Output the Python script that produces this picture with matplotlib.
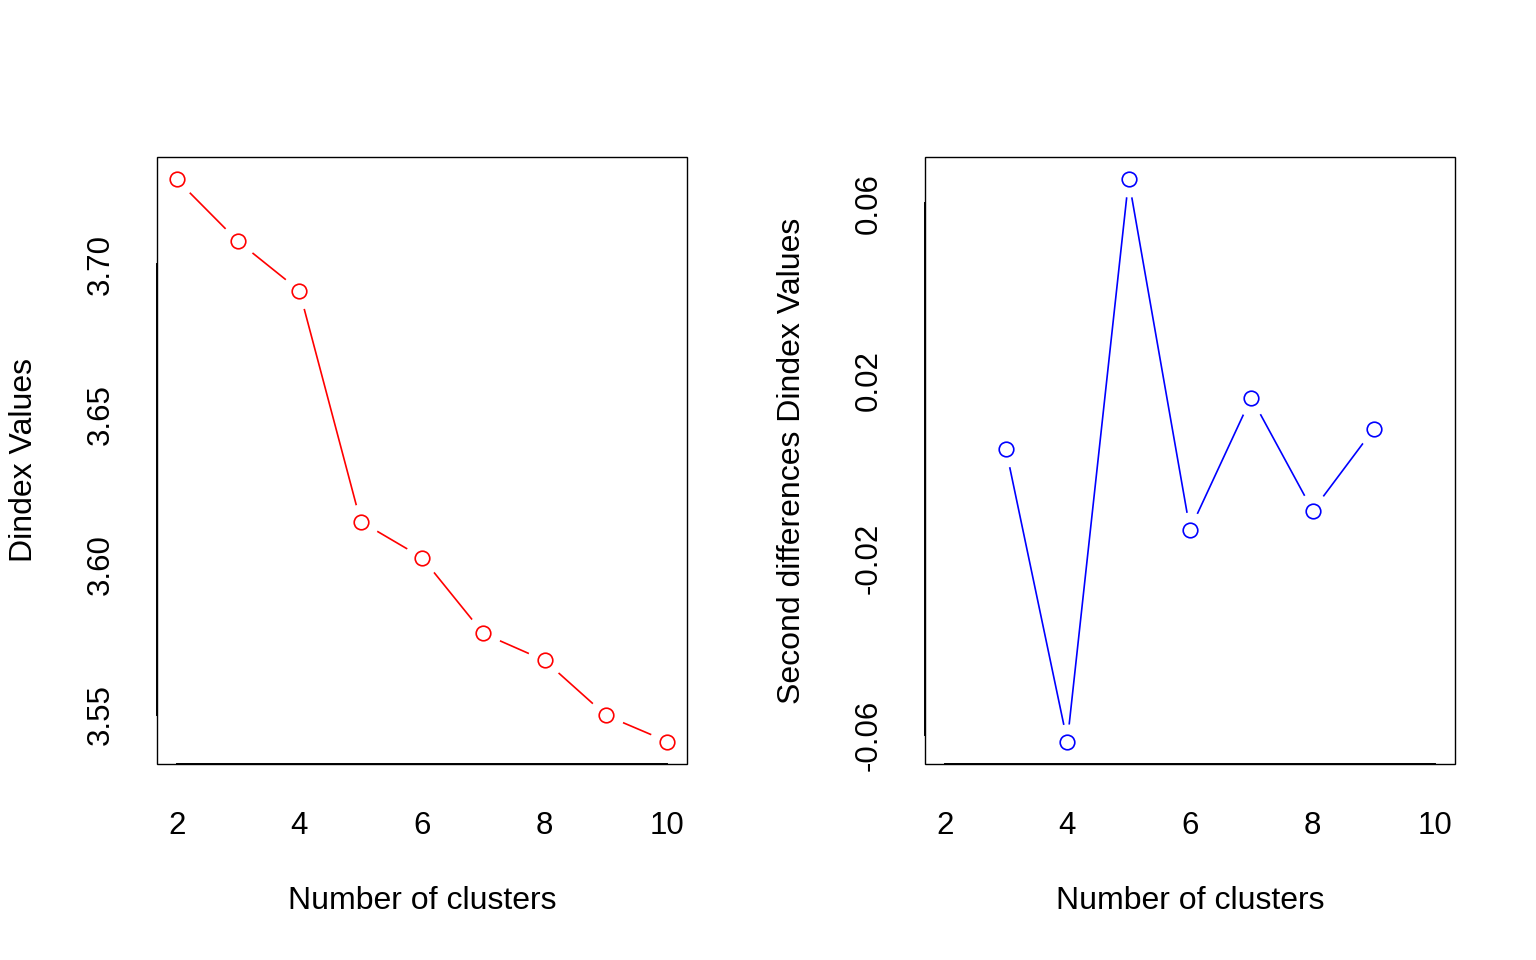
import matplotlib
matplotlib.use('Agg')
import matplotlib.pyplot as plt
from matplotlib.patches import Rectangle

plt.rcParams['font.family'] = ['Liberation Sans', 'DejaVu Sans']
plt.rcParams['axes.unicode_minus'] = False

# data
k_left = [2, 3, 4, 5, 6, 7, 8, 9, 10]
dindex = [3.7283, 3.7077, 3.6913, 3.6143, 3.6023, 3.5770, 3.5680, 3.5497, 3.5410]

k_right = [3, 4, 5, 6, 7, 8, 9]
second_diff = [0.0045, -0.0614, 0.0654, -0.0136, 0.0162, -0.0093, 0.0092]

x_ticks = [2, 4, 6, 8, 10]
left_yticks = [3.55, 3.60, 3.65, 3.70]
left_ylabels = ['3.55', '3.60', '3.65', '3.70']
right_yticks = [-0.06, -0.02, 0.02, 0.06]
right_ylabels = ['-0.06', '-0.02', '0.02', '0.06']

fig = plt.figure(figsize=(15.36, 9.6), dpi=100)
ax1 = fig.add_axes([157/1536, 1-764/960, 530/1536, 607/960])
ax2 = fig.add_axes([925/1536, 1-764/960, 530/1536, 607/960])


def r_style(ax, x, y, color, yticks, ylabels, ylabel):
    # type = "b": line with gaps around open circles
    ax.plot(x, y, color=color, lw=1.2, zorder=2)
    ax.plot(x, y, ls='none', marker='o', ms=26, mfc='white', mec='none', zorder=3)
    ax.plot(x, y, ls='none', marker='o', ms=10.5, mfc='none', mec=color, mew=1.2, zorder=4)

    ax.set_xlim(1.68, 10.32)
    lo, hi = min(y), max(y)
    pad = (hi - lo) * 0.04
    ax.set_ylim(lo - pad, hi + pad)

    ax.set_xticks(x_ticks)
    ax.set_xticklabels([str(t) for t in x_ticks])
    ax.set_yticks(yticks)
    ax.set_yticklabels(ylabels)
    ax.tick_params(axis='both', length=0, labelsize=22.5)
    ax.tick_params(axis='x', pad=33.5)
    ax.tick_params(axis='y', pad=29.5, labelrotation=90)
    for lab in ax.get_yticklabels():
        lab.set_va('center')

    # box plus thicker axis lines over the tick range
    for s in ['top', 'right']:
        ax.spines[s].set_visible(False)
    ax.add_patch(Rectangle((0, 0), 1, 1, transform=ax.transAxes, fill=False,
                           lw=1.0, ec='black', zorder=5, clip_on=False))
    ax.spines['left'].set_bounds(yticks[0], yticks[-1])
    ax.spines['bottom'].set_bounds(x_ticks[0], x_ticks[-1])
    ax.spines['left'].set_linewidth(1.4)
    ax.spines['bottom'].set_linewidth(1.4)
    ax.spines['left'].set_zorder(6)
    ax.spines['bottom'].set_zorder(6)

    ax.set_xlabel('Number of clusters', fontsize=23)
    ax.xaxis.set_label_coords(0.5, -0.226)
    ax.xaxis.label.set_va('center')
    ax.set_ylabel(ylabel, fontsize=23)
    ax.yaxis.set_label_coords(-0.251, 0.5)
    ax.yaxis.label.set_va('center')


r_style(ax1, k_left, dindex, '#FF0000', left_yticks, left_ylabels, 'Dindex Values')
r_style(ax2, k_right, second_diff, '#0000FF', right_yticks, right_ylabels,
        'Second differences Dindex Values')

fig.savefig('out.png', dpi=100)
